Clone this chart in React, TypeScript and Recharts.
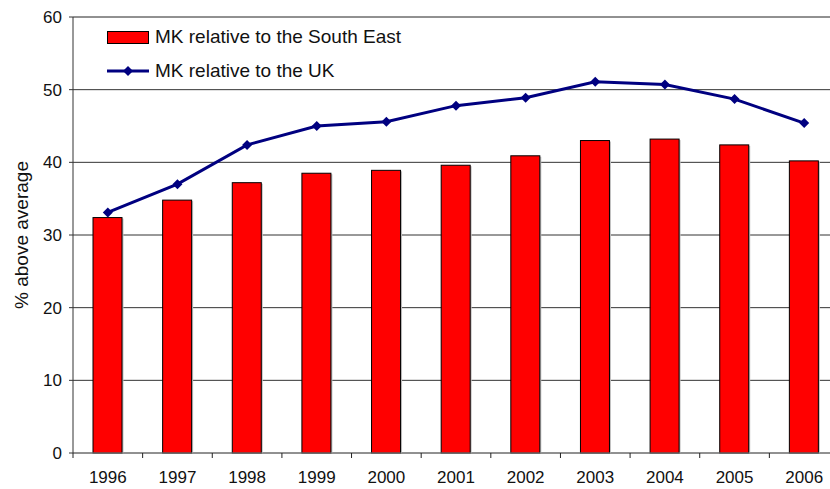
import React from 'react';
import {
  ComposedChart, Bar, Line, XAxis, YAxis, CartesianGrid, Legend, ReferenceLine,
} from 'recharts';

const years = ['1996', '1997', '1998', '1999', '2000', '2001', '2002', '2003', '2004', '2005', '2006'];
const southEast = [32.4, 34.8, 37.2, 38.5, 38.9, 39.6, 40.9, 43.0, 43.2, 42.4, 40.2];
const uk = [33.1, 37.0, 42.4, 45.0, 45.6, 47.8, 48.9, 51.1, 50.7, 48.7, 45.4];
const yTicks = [0, 10, 20, 30, 40, 50, 60];

const SE_NAME = 'MK relative to the South East';
const UK_NAME = 'MK relative to the UK';

const FONT = "'Liberation Sans', Arial, sans-serif";
const CHART_W = 840;
const CHART_H = 489;
const Y_AXIS_W = 73;
const MARGIN = { top: 17, right: 1, left: 0, bottom: 0 };
const X_AXIS_H = 36;
const PLOT_BOTTOM = CHART_H - X_AXIS_H;
const BAND = (CHART_W - Y_AXIS_W - MARGIN.right) / years.length;

const data = years.map((year, i) => ({
  year,
  se: southEast[i],
  uk: uk[i],
}));

const BarShape = (props: any) => {
  const { x, y, width, height, fill } = props;
  if (height <= 0) return null;
  return (
    <g>
      <rect x={x + 1.5} y={y + 1} width={width} height={height - 1} fill="#c0c0c0" />
      <rect x={x} y={y} width={width} height={height} fill={fill} stroke="#000" strokeWidth={1} />
    </g>
  );
};

const Diamond = (props: any) => {
  const { cx, cy } = props;
  if (cx == null || cy == null) return null;
  const r = 5;
  return (
    <polygon
      points={`${cx},${cy - r} ${cx + r},${cy} ${cx},${cy + r} ${cx - r},${cy}`}
      fill="#000080"
    />
  );
};

const XTick = (props: any) => {
  const { x, payload } = props;
  const bx = x - BAND / 2;
  return (
    <g>
      <line x1={bx} y1={PLOT_BOTTOM} x2={bx} y2={PLOT_BOTTOM + 5} stroke="#222" strokeWidth={1} />
      <text x={x} y={PLOT_BOTTOM + 30} textAnchor="middle" fill="#111" fontSize={17} fontFamily={FONT}>
        {payload.value}
      </text>
    </g>
  );
};

const renderLegend = () => (
  <div
    style={{
      background: 'rgba(255,255,255,0.82)',
      fontFamily: FONT,
      fontSize: 19,
      color: '#111',
      paddingTop: 2,
    }}
  >
    <div style={{ display: 'flex', alignItems: 'center', height: 34 }}>
      <div style={{ width: 32 }} />
      <div style={{ width: 40, height: 11, background: '#ff0000', border: '1px solid #000' }} />
      <div style={{ marginLeft: 6 }}>{SE_NAME}</div>
    </div>
    <div style={{ display: 'flex', alignItems: 'center', height: 34 }}>
      <div style={{ width: 32 }} />
      <svg width={42} height={12}>
        <line x1={0} y1={6} x2={42} y2={6} stroke="#000080" strokeWidth={3} />
        <polygon points="21,1 26,6 21,11 16,6" fill="#000080" />
      </svg>
      <div style={{ marginLeft: 6 }}>{UK_NAME}</div>
    </div>
  </div>
);

export default function App() {
  return (
    <div
      style={{
        position: 'absolute', left: 0, top: 0, width: 830, height: 489,
        overflow: 'hidden', background: '#fff',
      }}
    >
      <ComposedChart width={CHART_W} height={CHART_H} data={data} margin={MARGIN}>
        <CartesianGrid vertical={false} stroke="#333" strokeWidth={1} />
        <ReferenceLine y={60} stroke="#888" strokeWidth={1} />
        <XAxis
          dataKey="year"
          height={X_AXIS_H}
          axisLine={{ stroke: '#888' }}
          tickLine={false}
          tick={<XTick />}
          interval={0}
        />
        <YAxis
          width={Y_AXIS_W}
          domain={[0, 60]}
          ticks={yTicks}
          axisLine={{ stroke: '#333' }}
          tickLine={{ stroke: '#333' }}
          tickSize={4}
          tickMargin={7}
          tick={{ fontSize: 17, fill: '#111', fontFamily: FONT }}
          label={{
            value: '% above average',
            angle: -90,
            position: 'insideLeft',
            content: () => (
              <text
                x={21}
                y={235}
                transform="rotate(-90 21 235)"
                textAnchor="middle"
                dominantBaseline="central"
                fontSize={19}
                fill="#111"
                fontFamily={FONT}
              >
                % above average
              </text>
            ),
          }}
        />
        <Legend
          layout="vertical"
          align="center"
          verticalAlign="middle"
          content={renderLegend}
          wrapperStyle={{ left: 75, top: 18, width: 345, height: 74 }}
        />
        <Bar
          dataKey="se"
          name={SE_NAME}
          fill="#ff0000"
          barSize={29}
          shape={<BarShape />}
          isAnimationActive={false}
        />
        <Line
          dataKey="uk"
          name={UK_NAME}
          stroke="#000080"
          strokeWidth={3}
          dot={<Diamond />}
          activeDot={false}
          isAnimationActive={false}
        />
      </ComposedChart>
    </div>
  );
}
